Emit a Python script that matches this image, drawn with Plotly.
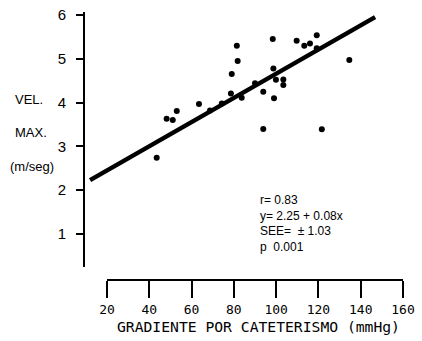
import plotly.graph_objects as go

# Data
gradiente = [43.5, 48.2, 51.1, 53.0, 63.5, 81.4, 81.8, 79.0, 78.6, 83.7, 93.9, 99.0,
             93.9, 98.4, 99.9, 103.4, 103.4, 109.7, 113.3, 116.0, 119.2, 121.6, 134.6,
             68.7, 74.3, 90.0, 98.7, 119.2]
vel_max = [2.74, 3.63, 3.60, 3.81, 3.97, 5.30, 4.95, 4.65, 4.21, 4.11, 4.25, 4.10,
           3.40, 5.45, 4.52, 4.53, 4.40, 5.41, 5.30, 5.35, 5.54, 3.39, 4.97,
           3.82, 3.98, 4.44, 4.78, 5.24]
reg_x = [12.0, 146.8]
reg_y = [2.23, 5.95]
x_ticks = [20, 40, 60, 80, 100, 120, 140, 160]
y_ticks = [1, 2, 3, 4, 5, 6]
stats_lines = ["r= 0.83", "y= 2.25 + 0.08x", "SEE=  \u00b1 1.03", "p  0.001"]
y_title_lines = ["VEL.", "MAX.", "(m/seg)"]
x_title = "GRADIENTE POR CATETERISMO (mmHg)"

W, H = 422, 341
L, R, T, B = 85, 19, 12, 61
PW, PH = W - L - R, H - T - B

def px(xp):
    return (xp - L) / PW

def py(yp):
    return (H - B - yp) / PH

mono = "DejaVu Sans Mono"
sans = "Liberation Sans"

fig = go.Figure()
fig.add_trace(go.Scatter(x=reg_x, y=reg_y, mode="lines",
                         line=dict(color="black", width=4.5),
                         showlegend=False, hoverinfo="skip"))
fig.add_trace(go.Scatter(x=gradiente, y=vel_max, mode="markers",
                         marker=dict(color="black", size=6),
                         showlegend=False))
# dummy trace to display the separate x axis
fig.add_trace(go.Scatter(x=[x_ticks[0], x_ticks[-1]], y=[3, 3], xaxis="x2", yaxis="y",
                         mode="markers", marker=dict(opacity=0),
                         showlegend=False, hoverinfo="skip"))

fig.update_layout(
    width=W, height=H,
    margin=dict(l=L, r=R, t=T, b=B, autoexpand=False),
    paper_bgcolor="white", plot_bgcolor="rgba(0,0,0,0)",
    xaxis=dict(range=[9.595, 160], domain=[0, 1], visible=False, showgrid=False,
               automargin=False),
    xaxis2=dict(range=[20, 160], domain=[22 / PW, 1], anchor="free", position=0,
                showline=True, linecolor="black", linewidth=2,
                ticks="outside", ticklen=17, tickwidth=2, tickcolor="black",
                tickvals=x_ticks, showgrid=False, zeroline=False, automargin=False,
                tickfont=dict(family=mono, size=13, color="black")),
    yaxis=dict(range=[0.247, 6.068], domain=[13 / PH, 1], showline=True,
               linecolor="black", linewidth=2, ticks="outside", ticklen=7,
               tickwidth=2, tickcolor="black", tickvals=y_ticks, showgrid=False,
               zeroline=False, ticklabelstandoff=7, automargin=False,
               tickfont=dict(family=sans, size=15, color="black")),
)

# y title (three stacked lines)
for txt, xc, yc in zip(y_title_lines, [29, 31, 32], [99, 132, 166]):
    fig.add_annotation(text=txt, xref="paper", yref="paper", x=px(xc), y=py(yc),
                       xanchor="center", yanchor="middle", showarrow=False,
                       font=dict(family=sans, size=13, color="black"))

# x title
fig.add_annotation(text=x_title, xref="paper", yref="paper", x=px(258), y=py(326),
                   xanchor="center", yanchor="middle", showarrow=False,
                   font=dict(family=mono, size=14.7, color="black"))

# statistics block
for i, txt in enumerate(stats_lines):
    fig.add_annotation(text=txt, xref="paper", yref="paper", x=px(258),
                       y=py(200 + 15.6 * i), xanchor="left", yanchor="middle",
                       showarrow=False,
                       font=dict(family=sans, size=12, color="black"))

fig.write_html("out.html", config={"displayModeBar": False},
               post_script="document.body.style.margin='0';document.body.style.padding='0';")
